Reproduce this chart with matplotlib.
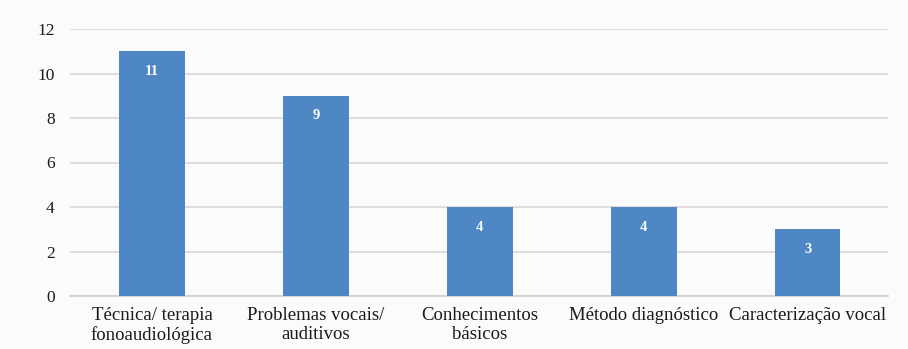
import matplotlib
matplotlib.use("Agg")
import matplotlib.pyplot as plt

categories = ["Técnica/ terapia\nfonoaudiológica", "Problemas vocais/\nauditivos",
              "Conhecimentos\nbásicos", "Método diagnóstico", "Caracterização vocal"]
values = [11, 9, 4, 4, 3]
yticks = [0, 2, 4, 6, 8, 10, 12]

plt.rcParams['font.family'] = ['Liberation Serif', 'DejaVu Serif']

fig = plt.figure(figsize=(9.08, 3.49), dpi=100)
fig.patch.set_facecolor('#fbfbfb')
ax = fig.add_axes([70/908, 1-296/349, 818/908, 267/349])
ax.set_facecolor('#fbfbfb')

x = list(range(len(categories)))
ax.bar(x, values, width=0.4, color='#4F87C5', zorder=3)
for xi, v in zip(x, values):
    ax.text(xi, v - 0.9, str(v), ha='center', va='center', color='white',
            fontsize=10.5, fontweight='bold', zorder=4)

ax.set_xlim(-0.5, 4.49)
ax.set_ylim(0, 12)
ax.set_yticks(yticks)
ax.set_xticks(x)
ax.set_xticklabels(categories, fontsize=13.5, linespacing=1.12)
ax.tick_params(axis='both', length=0, colors='#1a1a1a')
ax.tick_params(axis='y', pad=11, labelsize=12.5)
ax.tick_params(axis='x', pad=8)
ax.yaxis.grid(True, color='#ddd5d5', linewidth=1.2, zorder=0)
for s in ['top', 'right', 'left']:
    ax.spines[s].set_visible(False)
ax.spines['bottom'].set_color('#d5cccc')
ax.spines['bottom'].set_linewidth(1.2)

fig.savefig('out.png', dpi=100, facecolor=fig.get_facecolor())
